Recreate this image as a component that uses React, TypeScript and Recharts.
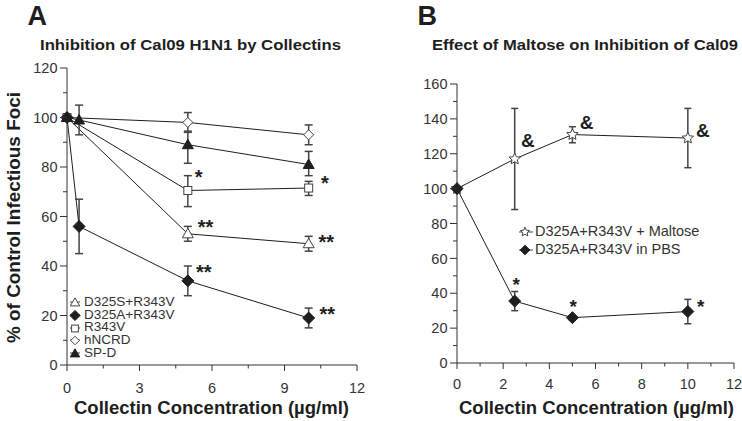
import React from 'react';
import { ComposedChart, Line, XAxis, YAxis, ErrorBar, Scatter, Legend } from 'recharts';

const FONT = '"Liberation Sans", Arial, Helvetica, sans-serif';
const INK = '#1e1e1e';
const GREY = '#333';

// ---- panel A: inhibition by collectins (% of control foci) ----
const d325sR343v = [
  { x: 0, y: 100 },
  { x: 5, y: 53, err: [3, 3] },
  { x: 10, y: 49, err: [3, 3] },
];
const d325aR343v = [
  { x: 0, y: 100 },
  { x: 0.5, y: 56, err: [11, 11] },
  { x: 5, y: 34, err: [6, 6] },
  { x: 10, y: 19, err: [4, 4] },
];
const r343v = [
  { x: 0, y: 100 },
  { x: 5, y: 70.5, err: [6.5, 6] },
  { x: 10, y: 71.5, err: [3, 2.7] },
];
const hncrd = [
  { x: 0, y: 100 },
  { x: 5, y: 98, err: [4, 4] },
  { x: 10, y: 93, err: [4, 4] },
];
const spd = [
  { x: 0, y: 100 },
  { x: 0.5, y: 99, err: [6, 6] },
  { x: 5, y: 89, err: [7.5, 5.5] },
  { x: 10, y: 81, err: [4.5, 5.3] },
];
const sigA = [
  { x: 5.45, y: 77.5, text: '*' },
  { x: 10.67, y: 75, text: '*' },
  { x: 5.73, y: 57, text: '**' },
  { x: 10.73, y: 51, text: '**' },
  { x: 5.66, y: 39, text: '**' },
  { x: 10.77, y: 22, text: '**' },
];
const yTicksA = [0, 10, 20, 30, 40, 50, 60, 70, 80, 90, 100, 110, 120];
const xTicksA = [0, 1.5, 3, 4.5, 6, 7.5, 9, 10.5, 12];

// ---- panel B: maltose effect ----
const maltose = [
  { x: 0, y: 100 },
  { x: 2.5, y: 117, err: [29, 29] },
  { x: 5, y: 131, err: [4.7, 4.5] },
  { x: 10, y: 129, err: [17, 17] },
];
const pbs = [
  { x: 0, y: 100 },
  { x: 2.5, y: 35.5, err: [5.5, 5.5] },
  { x: 5, y: 26, err: [1.5, 1.5] },
  { x: 10, y: 29.5, err: [7, 7] },
];
const sigB = [
  { x: 3.07, y: 128, text: '&' },
  { x: 5.62, y: 138, text: '&' },
  { x: 10.65, y: 133.5, text: '&' },
  { x: 2.56, y: 47, text: '*' },
  { x: 5.03, y: 34.5, text: '*' },
  { x: 10.56, y: 34.5, text: '*' },
];
const yTicksB = [0, 10, 20, 30, 40, 50, 60, 70, 80, 90, 100, 110, 120, 130, 140, 150, 160];
const xTicksB = [0, 1, 2, 3, 4, 5, 6, 7, 8, 9, 10, 11, 12];

const legendA = [
  { name: 'D325S+R343V', kind: 'triOpen' },
  { name: 'D325A+R343V', kind: 'diaFill' },
  { name: 'R343V', kind: 'sqOpen' },
  { name: 'hNCRD', kind: 'diaOpen' },
  { name: 'SP-D', kind: 'triFill' },
];
const legendB = [
  { name: 'D325A+R343V + Maltose', kind: 'star' },
  { name: 'D325A+R343V in PBS', kind: 'diaFill' },
];

function Shape({ kind, cx, cy, s = 1 }: { kind: string; cx: number; cy: number; s?: number }) {
  const open = { fill: '#fff', stroke: '#444', strokeWidth: 1 };
  const solid = { fill: INK, stroke: INK, strokeWidth: 1 };
  if (kind === 'triOpen' || kind === 'triFill') {
    const p = `${cx},${cy - 5.5 * s} ${cx - 5.5 * s},${cy + 4 * s} ${cx + 5.5 * s},${cy + 4 * s}`;
    return <polygon points={p} {...(kind === 'triOpen' ? open : solid)} />;
  }
  if (kind === 'diaFill' || kind === 'diaOpen') {
    const r = (kind === 'diaFill' ? 6 : 5) * s;
    const p = `${cx},${cy - r} ${cx + r},${cy} ${cx},${cy + r} ${cx - r},${cy}`;
    return <polygon points={p} {...(kind === 'diaOpen' ? open : solid)} />;
  }
  if (kind === 'sqOpen') {
    return <rect x={cx - 4 * s} y={cy - 4 * s} width={8 * s} height={8 * s} {...open} />;
  }
  // star
  const pts: string[] = [];
  for (let i = 0; i < 10; i++) {
    const r = (i % 2 === 0 ? 6 : 2.8) * s;
    const a = -Math.PI / 2 + (i * Math.PI) / 5;
    pts.push(`${cx + r * Math.cos(a)},${cy + r * Math.sin(a)}`);
  }
  return <polygon points={pts.join(' ')} {...open} />;
}

const dotOf = (kind: string) => (p: any) => (
  <Shape key={`d-${kind}-${p.index}`} kind={kind} cx={p.cx} cy={p.cy} />
);

const SigMark = (size: number) => (p: any) => {
  const t = p.payload.text;
  const dy = t === '&' ? size * 0.36 : size * 0.52;
  return (
    <text x={p.cx} y={p.cy + dy} textAnchor="middle" fontSize={size} fontWeight="bold" fill={INK} fontFamily={FONT}>
      {t}
    </text>
  );
};

const YTick = (step: number) => (p: any) => {
  const v = p.payload.value;
  const major = v % step === 0;
  return (
    <g>
      <line x1={p.x} x2={p.x - (major ? 7 : 4)} y1={p.y} y2={p.y} stroke={GREY} />
      {major && (
        <text x={p.x - 9.5} y={p.y} dy="0.36em" textAnchor="end" fontSize={14.5} fill={GREY} fontFamily={FONT}>
          {v}
        </text>
      )}
    </g>
  );
};

const XTick = (step: number, drop: number) => (p: any) => {
  const v = p.payload.value;
  const major = v % step === 0;
  return (
    <g>
      <line x1={p.x} x2={p.x} y1={p.y} y2={p.y + (major ? 6 : 3.5)} stroke={GREY} />
      {major && (
        <text x={p.x} y={p.y + drop} textAnchor="middle" fontSize={14.5} fill={GREY} fontFamily={FONT}>
          {v}
        </text>
      )}
    </g>
  );
};

function LegendA() {
  return (
    <div style={{ fontFamily: FONT, fontSize: 13.5, color: GREY, lineHeight: '12.7px' }}>
      {legendA.map((it) => (
        <div key={it.name} style={{ display: 'flex', alignItems: 'center', height: 12.7, whiteSpace: 'nowrap' }}>
          <svg width={14} height={12} style={{ marginRight: 2 }}>
            <line x1={2} x2={12} y1={6} y2={6} stroke="#444" />
            <Shape kind={it.kind} cx={7} cy={6.5} s={0.85} />
          </svg>
          {it.name}
        </div>
      ))}
    </div>
  );
}

function LegendB() {
  return (
    <div style={{ fontFamily: FONT, fontSize: 14.5, color: GREY, lineHeight: '17.7px' }}>
      {legendB.map((it) => (
        <div key={it.name} style={{ display: 'flex', alignItems: 'center', height: 17.7, whiteSpace: 'nowrap' }}>
          <svg width={16} height={14} style={{ marginRight: 1 }}>
            <line x1={1} x2={15} y1={7} y2={7} stroke="#444" />
            <Shape kind={it.kind} cx={7} cy={7} s={0.8} />
          </svg>
          {it.name}
        </div>
      ))}
    </div>
  );
}

const axisLine = { stroke: GREY, strokeWidth: 1 };

export default function App() {
  return (
    <div style={{ position: 'fixed', left: 0, top: 0, width: 742, height: 421, background: '#fff', overflow: 'hidden' }}>
      <div style={{ position: 'absolute', left: 0, top: 0 }}>
        <ComposedChart width={370} height={421} margin={{ top: 68, right: 13, bottom: 26, left: 27 }}>
          <XAxis
            type="number"
            dataKey="x"
            domain={[0, 12]}
            ticks={xTicksA}
            interval={0}
            height={30}
            tickSize={0}
            tickMargin={0}
            tickLine={false}
            axisLine={axisLine}
            tick={XTick(3, 28)}
            allowDuplicatedCategory={false}
          />
          <YAxis
            type="number"
            domain={[0, 120]}
            ticks={yTicksA}
            interval={0}
            width={40}
            tickSize={0}
            tickMargin={0}
            tickLine={false}
            axisLine={axisLine}
            tick={YTick(20)}
          />
          <Line data={hncrd} dataKey="y" stroke={INK} strokeWidth={1} dot={dotOf('diaOpen')} isAnimationActive={false}>
            <ErrorBar dataKey="err" direction="y" width={4} stroke="#444" isAnimationActive={false} />
          </Line>
          <Line data={r343v} dataKey="y" stroke={INK} strokeWidth={1} dot={dotOf('sqOpen')} isAnimationActive={false}>
            <ErrorBar dataKey="err" direction="y" width={4} stroke="#444" isAnimationActive={false} />
          </Line>
          <Line data={d325sR343v} dataKey="y" stroke={INK} strokeWidth={1} dot={dotOf('triOpen')} isAnimationActive={false}>
            <ErrorBar dataKey="err" direction="y" width={4} stroke="#444" isAnimationActive={false} />
          </Line>
          <Line data={spd} dataKey="y" stroke={INK} strokeWidth={1} dot={dotOf('triFill')} isAnimationActive={false}>
            <ErrorBar dataKey="err" direction="y" width={4} stroke="#444" isAnimationActive={false} />
          </Line>
          <Line data={d325aR343v} dataKey="y" stroke={INK} strokeWidth={1} dot={dotOf('diaFill')} isAnimationActive={false}>
            <ErrorBar dataKey="err" direction="y" width={4} stroke="#444" isAnimationActive={false} />
          </Line>
          <Scatter data={sigA} dataKey="y" shape={SigMark(20)} isAnimationActive={false} />
          <Legend
            layout="vertical"
            verticalAlign="middle"
            align="center"
            content={() => <LegendA />}
            wrapperStyle={{ left: 68, top: 296, width: 'auto' }}
          />
        </ComposedChart>
      </div>

      <div style={{ position: 'absolute', left: 370, top: 0 }}>
        <ComposedChart width={372} height={421} margin={{ top: 84, right: 8, bottom: 28, left: 47 }}>
          <XAxis
            type="number"
            dataKey="x"
            domain={[0, 12]}
            ticks={xTicksB}
            interval={0}
            height={30}
            tickSize={0}
            tickMargin={0}
            tickLine={false}
            axisLine={axisLine}
            tick={XTick(2, 25.5)}
            allowDuplicatedCategory={false}
          />
          <YAxis
            type="number"
            domain={[0, 160]}
            ticks={yTicksB}
            interval={0}
            width={40}
            tickSize={0}
            tickMargin={0}
            tickLine={false}
            axisLine={axisLine}
            tick={YTick(20)}
          />
          <Line data={maltose} dataKey="y" stroke={INK} strokeWidth={1} dot={dotOf('star')} isAnimationActive={false}>
            <ErrorBar dataKey="err" direction="y" width={3.5} stroke="#444" isAnimationActive={false} />
          </Line>
          <Line data={pbs} dataKey="y" stroke={INK} strokeWidth={1} dot={dotOf('diaFill')} isAnimationActive={false}>
            <ErrorBar dataKey="err" direction="y" width={3.5} stroke="#444" isAnimationActive={false} />
          </Line>
          <Scatter data={sigB} dataKey="y" shape={SigMark(19)} isAnimationActive={false} />
          <Legend
            layout="vertical"
            verticalAlign="middle"
            align="center"
            content={() => <LegendB />}
            wrapperStyle={{ left: 148, top: 223, width: 'auto' }}
          />
        </ComposedChart>
      </div>

      <svg
        width={742}
        height={421}
        style={{ position: 'absolute', left: 0, top: 0, pointerEvents: 'none' }}
        fontFamily={FONT}
        fontWeight="bold"
        fill={INK}
      >
        <text x={27.5} y={25} fontSize={27}>A</text>
        <text x={417.5} y={25} fontSize={27}>B</text>
        <text x={40} y={49.5} fontSize={15.5} textLength={301} lengthAdjust="spacingAndGlyphs">
          Inhibition of Cal09 H1N1 by Collectins
        </text>
        <text x={432} y={49.5} fontSize={15.5} textLength={306} lengthAdjust="spacingAndGlyphs">
          Effect of Maltose on Inhibition of Cal09
        </text>
        <text x={74} y={413.5} fontSize={18.7} textLength={275} lengthAdjust="spacingAndGlyphs">
          Collectin Concentration (µg/ml)
        </text>
        <text x={459} y={413.5} fontSize={18.7} textLength={275} lengthAdjust="spacingAndGlyphs">
          Collectin Concentration (µg/ml)
        </text>
        <text transform="translate(20, 343) rotate(-90)" fontSize={18.8} textLength={251} lengthAdjust="spacingAndGlyphs">
          % of Control Infectious Foci
        </text>
      </svg>
    </div>
  );
}
